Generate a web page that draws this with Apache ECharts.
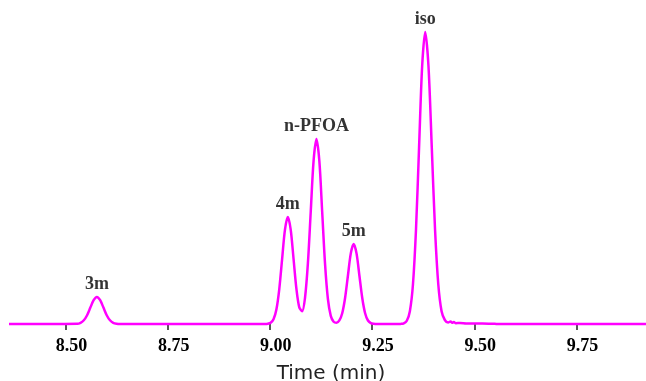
<!DOCTYPE html>
<html>
<head>
<meta charset="utf-8">
<script src="https://cdn.jsdelivr.net/npm/echarts@6/dist/echarts.min.js"></script>
<style>
  html, body { margin: 0; padding: 0; background: #fff; }
  #chart { width: 646px; height: 381px; }
</style>
</head>
<body>
<div id="chart"></div>
<script>
// retention time (min) and detector signal
const retentionTimes = [
  8.362, 8.45, 8.529,
  8.537, 8.545, 8.553, 8.561, 8.569, 8.577, 8.585, 8.593, 8.601, 8.609, 8.617, 8.625, 8.633,
  8.80, 8.988,
  8.995, 9.002, 9.009, 9.016, 9.023, 9.030, 9.037, 9.044, 9.051, 9.058, 9.065, 9.072, 9.079,
  9.086, 9.093, 9.100, 9.107, 9.114, 9.121, 9.128, 9.135, 9.142, 9.149, 9.156, 9.163, 9.170,
  9.177, 9.184, 9.191, 9.198, 9.205, 9.212, 9.219, 9.226, 9.233, 9.240, 9.247, 9.254, 9.262,
  9.31, 9.320, 9.3275, 9.335, 9.3425, 9.350, 9.3575, 9.365, 9.3725, 9.380, 9.388, 9.396,
  9.404, 9.412, 9.420, 9.428, 9.436, 9.442, 9.446, 9.450, 9.455, 9.465, 9.48, 9.50, 9.52,
  9.55, 9.56, 9.70, 9.92
];
const signalValues = [
  0, 0, 0.2,
  1.2, 3.7, 8.8, 16.4, 23.8, 27, 23.8, 16.4, 8.8, 3.7, 1.2, 0.3, 0,
  0, 0,
  0.2, 1.2, 4.7, 14.5, 34.7, 64.9, 94.4, 107, 94.4, 65.0, 35.1, 16.6, 12.8,
  26.2, 60.3, 112.2, 163.3, 185, 163.3, 112.2, 60.1, 25.0, 8.1, 2.3, 1.3, 3.6,
  10.8, 26.0, 48.5, 70.6, 80, 70.6, 48.5, 26.0, 10.8, 3.5, 0.9, 0.2, 0,
  0, 0.1, 0.6, 3.2, 12.8, 39.5, 94.8, 177.1, 257.7, 292, 257.7, 177.1,
  94.8, 39.5, 12.8, 4.0, 1.5, 2.5, 1.2, 2.0, 0.8, 1.0, 0.6, 0.5, 0.6,
  0.2, 0, 0, 0
];

// peak annotations
const peakNames = ["3m", "4m", "n-PFOA", "5m", "iso"];
const peakTimes = [8.577, 9.044, 9.114, 9.205, 9.380];
const peakHeights = [27, 107, 185, 80, 292];

const tickValues = [8.5, 8.75, 9.0, 9.25, 9.5, 9.75];

const chart = echarts.init(document.getElementById("chart"));

chart.setOption({
  animation: false,
  grid: { left: 0, right: 0, top: 24, bottom: 52, outerBoundsMode: "none" },
  xAxis: {
    type: "value",
    min: 8.34,
    max: 9.92,
    name: "Time (min)",
    nameLocation: "middle",
    nameGap: 35,
    nameTextStyle: {
      fontFamily: "DejaVu Sans",
      fontSize: 20,
      color: "#222",
      padding: [0, 0, 0, 16],
    },
    axisLine: { show: false },
    splitLine: { show: false },
    axisTick: {
      show: true,
      length: 6,
      customValues: tickValues,
      lineStyle: { color: "#222", width: 1.5 },
    },
    axisLabel: {
      customValues: tickValues,
      margin: 8,
      padding: [0, 0, 0, 12],
      fontFamily: "Liberation Serif",
      fontWeight: "bold",
      fontSize: 18,
      color: "#000",
      formatter: (v) => v.toFixed(2),
    },
  },
  yAxis: {
    type: "value",
    min: -5,
    max: 300,
    show: false,
  },
  series: [
    {
      name: "signal",
      type: "line",
      data: retentionTimes.map((t, i) => [t, signalValues[i]]),
      showSymbol: false,
      smooth: 0.3,
      lineStyle: { color: "#ff00ff", width: 2.5 },
      silent: true,
    },
    {
      name: "peaks",
      type: "scatter",
      data: peakTimes.map((t, i) => ({ value: [t, peakHeights[i]], name: peakNames[i] })),
      symbolSize: 1,
      itemStyle: { color: "rgba(0,0,0,0)" },
      silent: true,
      label: {
        show: true,
        position: "top",
        distance: 3,
        formatter: (p) => p.name,
        fontFamily: "Liberation Serif",
        fontWeight: "bold",
        fontSize: 18,
        color: "#000",
      },
    },
  ],
});
</script>
</body>
</html>
